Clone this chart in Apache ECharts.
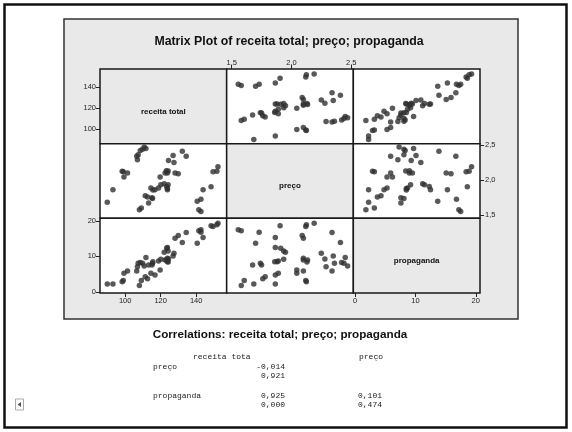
<!DOCTYPE html>
<html>
<head>
<meta charset="utf-8">
<script src="https://cdn.jsdelivr.net/npm/echarts@6/dist/echarts.min.js"></script>
<style>html,body{margin:0;padding:0;background:#fff}#c{width:572px;height:432px}</style>
</head>
<body>
<div id="c"></div>
<script>
// ---- data (one entry per observation) ----
const receita = [89.9,93.1,98.3,98.9,99.3,101.3,106.5,106.9,107.3,108.0,109.1,108.5,109.8,110.7,111.7,111.3,112.6,113.2,115.1,114.5,116.8,118.8,119.7,120.1,122.0,122.5,123.2,123.4,123.8,124.2,124.4,127.0,127.5,128.1,129.9,132.2,134.4,140.6,141.5,142.7,142.7,143.9,148.4,149.5,151.7,152.3,115.4,115.6,123.8,124.2,123.8];
const preco = [1.685,1.865,2.125,2.12,2.045,2.10,2.34,2.29,2.36,1.58,1.605,2.42,2.44,2.47,2.45,1.78,1.76,1.675,1.75,1.89,1.865,1.89,2.045,1.935,1.95,2.10,2.135,1.91,1.865,1.935,2.28,2.35,2.25,2.10,2.09,2.41,2.34,1.70,1.58,1.555,1.73,1.865,1.905,2.12,2.125,2.19,1.74,1.86,2.10,2.13,1.88];
const propaganda = [2.25,2.25,2.9,3.2,5.3,5.9,5.9,7.1,8.1,1.8,3.2,8.3,8.1,7.3,9.7,4.3,3.7,7.6,7.6,5.3,4.8,8.7,6.2,9.2,11.2,9.0,9.0,12.3,12.5,11.5,9.3,10.1,10.9,15.1,15.9,13.9,16.7,13.7,17.2,17.5,16.8,15.3,18.6,18.4,18.9,19.3,8.1,8.5,9.5,8.4,8.5];
const varNames = ['receita total','preço','propaganda'];
const receitaTicks = [100,120,140];
const precoTicks = [1.5,2.0,2.5];
const propagandaTicks = [0,10,20];
const corrTitle = 'Correlations: receita total; preço; propaganda';
const corrHeader = ['receita tota','preço'];
const corrRows = [
  {name:'preço', vals:[['-0,014','0,921'],null]},
  {name:'propaganda', vals:[['0,925','0,000'],['0,101','0,474']]}
];

// ---- layout ----
const vars = [receita, preco, propaganda];
const ranges = [[85.8,157.2],[1.458,2.518],[-0.28,20.7]];
const ticks = [receitaTicks, precoTicks, propagandaTicks];
const fmts = [v=>String(v), v=>v.toFixed(1).replace('.',','), v=>String(v)];
const L=100, T=69, W=380, H=224, CW=W/3, CH=H/3;
const GRAY='#e9e9e9';
const font='Liberation Sans';

const grids=[], xAxes=[], yAxes=[], series=[];
function axisCfg(idx, show, pos, gi, margin){
  return {gridIndex:gi, type:'value', min:ranges[idx][0], max:ranges[idx][1], position:pos,
    axisLine:{show:false, onZero:false}, splitLine:{show:false},
    axisTick:{show:show, length:4, inside:false, customValues:ticks[idx], lineStyle:{color:'#222',width:1}},
    axisLabel:{show:show, customValues:ticks[idx], formatter:fmts[idx], fontSize:7.5, fontFamily:font, color:'#222', margin:margin}};
}
for(let r=0;r<3;r++){
  for(let c=0;c<3;c++){
    const gi = r*3+c;
    grids.push({left:L+c*CW, top:T+r*CH, width:CW, height:CH, show:true,
      backgroundColor: r===c?GRAY:'#ffffff', borderColor:'#1a1a1a', borderWidth:1.5,
      containLabel:false, outerBoundsMode:'none'});
    let xs=false, xp='bottom', xm=4;
    if(r===2 && c===0){xs=true;}
    if(r===2 && c===2){xs=true;}
    if(r===0 && c===1){xs=true; xp='top'; xm=2;}
    xAxes.push(axisCfg(c, xs, xp, gi, xm));
    let ys=false, yp='left', ym=4;
    if(c===0 && r===0){ys=true;}
    if(c===0 && r===2){ys=true;}
    if(c===2 && r===1){ys=true; yp='right'; ym=5;}
    yAxes.push(axisCfg(r, ys, yp, gi, ym));
    if(r!==c){
      series.push({type:'scatter', xAxisIndex:gi, yAxisIndex:gi, symbol:'circle', symbolSize:5.5,
        itemStyle:{color:'#303030'}, silent:true, animation:false,
        data: vars[c].map((v,k)=>[v, vars[r][k]])});
    }
  }
}

const graphic = [
  {type:'rect', z:-100, shape:{x:4.5,y:4.5,width:562,height:423}, style:{fill:'#fff', stroke:'#111', lineWidth:2.5}},
  {type:'rect', z:-99, shape:{x:64,y:19,width:454,height:300}, style:{fill:GRAY, stroke:'#333', lineWidth:1.5}},
  {type:'text', z:10, x:289, y:42, style:{text:'Matrix Plot of receita total; preço; propaganda', font:'bold 12.3px "Liberation Sans"', fill:'#111', align:'center', verticalAlign:'middle'}},
  {type:'text', z:10, x:280, y:335, style:{text:corrTitle, font:'bold 11.7px "Liberation Sans"', fill:'#111', align:'center', verticalAlign:'middle'}},
  {type:'text', z:10, x:193, y:357, style:{text:corrHeader[0], font:'8px "Liberation Mono"', fill:'#222', align:'left', verticalAlign:'middle'}},
  {type:'text', z:10, x:383, y:357, style:{text:corrHeader[1], font:'8px "Liberation Mono"', fill:'#222', align:'right', verticalAlign:'middle'}},
  {type:'rect', z:10, shape:{x:15.5,y:399,width:8,height:11}, style:{fill:'#fff', stroke:'#aaa', lineWidth:1}},
  {type:'polygon', z:11, shape:{points:[[17.5,404.5],[21,402],[21,407]]}, style:{fill:'#555'}}
];
for(let i=0;i<3;i++){
  graphic.push({type:'text', z:10, x:L+i*CW+CW/2, y:T+i*CH+CH/2+5, style:{text:varNames[i], font:'bold 8px "Liberation Sans"', fill:'#111', align:'center', verticalAlign:'middle'}});
}
const rowY=[[367,376],[396,405]];
corrRows.forEach((row,ri)=>{
  graphic.push({type:'text', z:10, x:153, y:rowY[ri][0], style:{text:row.name, font:'8px "Liberation Mono"', fill:'#222', align:'left', verticalAlign:'middle'}});
  const colX=[285,382];
  row.vals.forEach((pair,ci)=>{
    if(!pair) return;
    pair.forEach((t,li)=>{
      graphic.push({type:'text', z:10, x:colX[ci], y:rowY[ri][li], style:{text:t, font:'8px "Liberation Mono"', fill:'#222', align:'right', verticalAlign:'middle'}});
    });
  });
});

const chart = echarts.init(document.getElementById('c'), null, {renderer:'canvas'});
chart.setOption({animation:false, backgroundColor:'#fff', grid:grids, xAxis:xAxes, yAxis:yAxes, series:series, graphic:graphic});
</script>
</body>
</html>
